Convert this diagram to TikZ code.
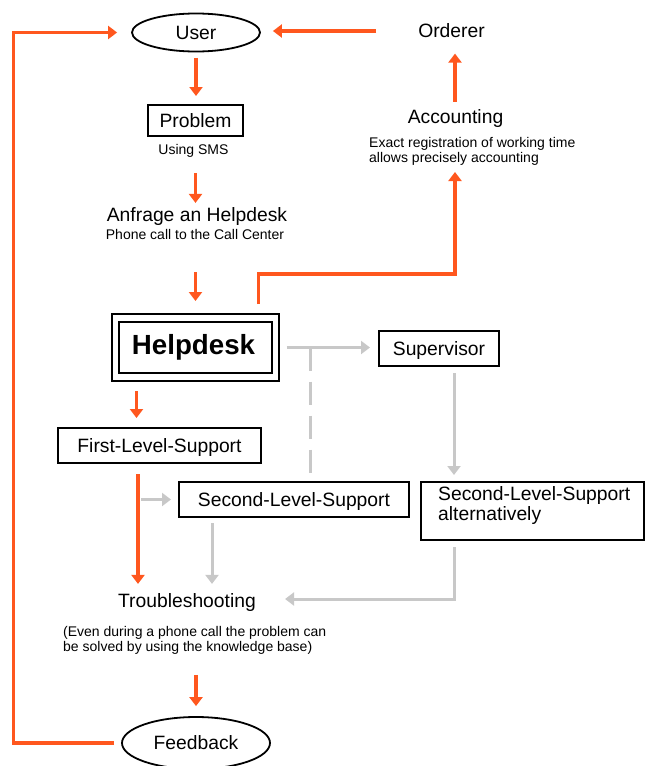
\documentclass[tikz,border=0pt]{standalone}
\usepackage{fontspec}
\setmainfont{Liberation Sans}
\usetikzlibrary{arrows.meta,shapes.geometric,calc}

\definecolor{flow}{RGB}{255,87,30}
\definecolor{alt}{RGB}{200,200,200}

\tikzset{
  big/.style={font=\fontsize{19.3}{23}\selectfont, text height=13.8pt, text depth=0pt, inner sep=0pt},
  small/.style={font=\fontsize{14}{15.5}\selectfont, text height=10pt, text depth=0pt, inner sep=0pt},
  smallpar/.style={font=\fontsize{14}{15}\selectfont, inner sep=0pt, align=left},
  stepbox/.style={big, draw=black, line width=2pt, minimum height=35pt},
  oval/.style={big, ellipse, draw=black, line width=1.8pt},
  oarr/.style={draw=flow, line width=3.2pt, -{Triangle[width=13pt,length=9pt]}},
  garr/.style={draw=alt, line width=3pt, -{Triangle[width=13pt,length=9pt]}},
}

\begin{document}
\begin{tikzpicture}[x=1pt,y=-1pt]
\useasboundingbox (0,0) rectangle (646,766);

% top row
\node[oval, minimum width=128pt, minimum height=38pt] (user) at (196,32.5) {User};
\node[big] (ord) at (451.5,30.5) {Orderer};

% request path
\node[stepbox, minimum width=95pt, minimum height=31pt] (prob) at (195.5,120.5) {Problem};
\node[small] (sms) at (193.5,149) {Using SMS};
\node[big] (anf) at (197,215) {Anfrage an Helpdesk};
\node[small] (phone) at (195,234) {Phone call to the Call Center};

% accounting
\node[big] (acc) at (455.5,117) {Accounting};
\node[smallpar, anchor=north west] (accnote) at (369,137)
  {Exact registration of working time\\allows precisely accounting};
\coordinate (acctip) at (455,172);
\coordinate (bend) at (455,274);

% helpdesk, double frame
\node[draw=black, line width=2pt, minimum width=153pt, minimum height=51pt] (hdin) at (195,347.5) {};
\node[draw=black, line width=2pt, minimum width=167pt, minimum height=67pt] (hd) at (195,347.5) {};
\node[font=\fontsize{27.7}{32}\bfseries\selectfont, text height=19.8pt, text depth=0pt, inner sep=0pt] at (193.5,345) {Helpdesk};

\node[stepbox, minimum width=120pt] (sup) at (439,348.5) {Supervisor};
\node[stepbox, minimum width=203pt] (fls) at (159.5,445.5) {First-Level-Support};
\node[stepbox, minimum width=230pt] (sls) at (294,499.5) {Second-Level-Support};
\node[draw=black, line width=2pt, minimum width=223pt, minimum height=58pt] (alt) at (532.5,511) {};
\node[smallpar, font=\fontsize{19.3}{20}\selectfont, anchor=north west] at (438,486)
  {Second-Level-Support\\alternatively};

\node[big] (trb) at (187,601) {Troubleshooting};
\node[smallpar, anchor=north west] (kb) at (63,626.5)
  {(Even during a phone call the problem can\\be solved by using the knowledge base)};
\node[oval, minimum width=148pt, minimum height=52pt] (fb) at (196,743) {Feedback};

% main flow
\draw[oarr, shorten <=5.5pt, shorten >=8pt] (user.south) -- (user.south |- prob.north);
\draw[oarr, shorten <=19pt, shorten >=5pt] (prob.south |- sms.south) -- (prob.south |- anf.north);
\draw[oarr, shorten <=33pt, shorten >=12pt] (prob.south |- phone.south) -- (prob.south |- hd.north);
\draw[oarr, shorten <=9pt] ([xshift=-21pt]hd.north east) |- (bend) -- (acctip);
\draw[oarr, shorten <=8pt, shorten >=16pt] (acc.north -| acctip) -- (acctip |- ord.south);
\draw[oarr, shorten <=42pt, shorten >=12pt] ([yshift=-0.5pt]ord.west) -- ([yshift=-0.5pt]ord.west -| user.east);
\draw[oarr, shorten <=7pt, shorten >=14pt] (fb.west) -- ++(-108,0) |- (user.west);
\draw[oarr, shorten <=9pt, shorten >=9pt] ([xshift=26pt]hd.south west) -- ([xshift=26pt]hd.south west |- fls.north);
\draw[oarr, shorten <=10pt, shorten >=10pt] ([xshift=-21.5pt]fls.south) -- ([xshift=-21.5pt]fls.south |- trb.north);
\draw[oarr, shorten <=20pt, shorten >=10pt] (fb.north |- kb.south) -- (fb.north);

% alternative routes
\draw[garr, shorten <=7pt, shorten >=8pt] (hd.east) -- (hd.east -| sup.west);
\draw[draw=alt, line width=3pt, dash pattern=on 23pt off 11pt, shorten >=7pt] (hd.east -| sls.north) ++(16.5,0) coordinate (tee) -- (tee |- sls.north);
\draw[garr, shorten <=2pt, shorten >=7pt] ([xshift=-39pt]sls.west) -- (sls.west);
\draw[garr, shorten <=5pt, shorten >=10pt] ([xshift=-82pt]sls.south) -- ([xshift=-82pt]sls.south |- trb.north);
\draw[garr, shorten <=6pt, shorten >=6pt] ([xshift=15pt]sup.south) -- ([xshift=15pt]sup.south |- alt.north);
\draw[garr, shorten <=6pt, shorten >=29pt] ([xshift=-78.5pt]alt.south) |- ([yshift=2pt]trb.east);
\end{tikzpicture}
\end{document}
